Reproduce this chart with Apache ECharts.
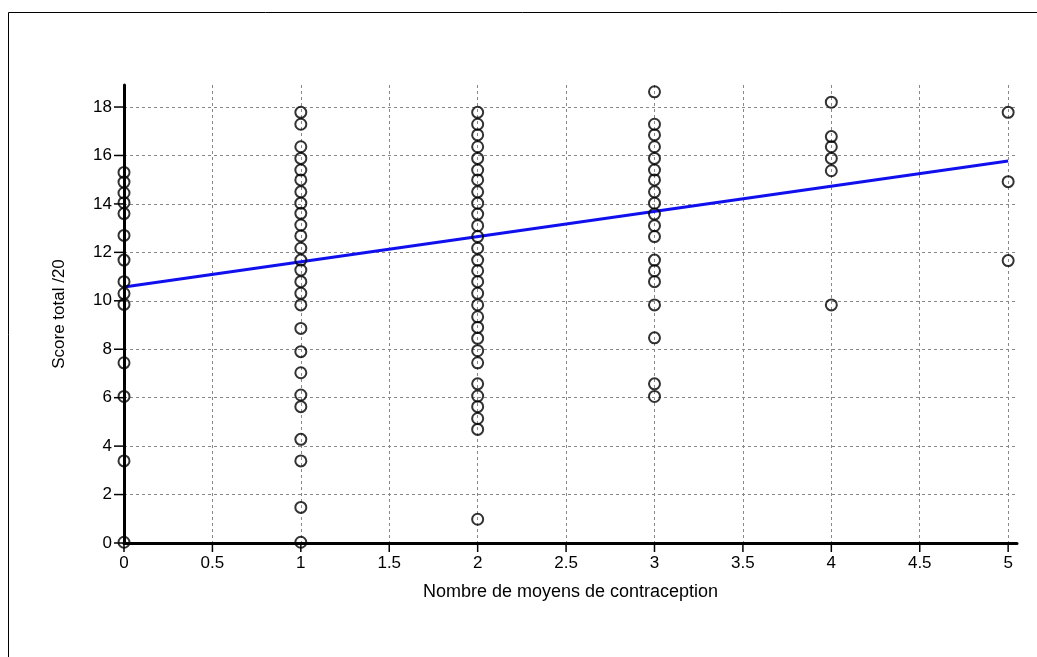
<!DOCTYPE html>
<html>
<head>
<meta charset="utf-8">
<script src="https://cdn.jsdelivr.net/npm/echarts@6/dist/echarts.min.js"></script>
<style>html,body{margin:0;padding:0;background:#fff}#c{width:1037px;height:657px}</style>
</head>
<body>
<div id="c"></div>
<script>
// Scores (y) for each number of contraception methods (x)
const scoresAt0 = [15.3, 14.9, 14.45, 14.05, 13.6, 12.7, 11.68, 10.79, 10.3, 9.85, 7.44, 6.05, 3.39, 0.03];
const scoresAt1 = [17.78, 17.29, 16.36, 15.88, 15.40, 14.99, 14.50, 14.03, 13.61, 13.13, 12.68, 12.17, 11.68, 11.27, 10.79, 10.31, 9.83, 8.86, 7.90, 7.03, 6.11, 5.63, 4.28, 3.39, 1.47, 0.03];
const scoresAt2 = [17.78, 17.29, 16.85, 16.36, 15.88, 15.40, 14.99, 14.50, 14.03, 13.58, 13.10, 12.65, 12.17, 11.68, 11.24, 10.79, 10.31, 9.83, 9.34, 8.90, 8.45, 7.94, 7.44, 6.57, 6.07, 5.63, 5.14, 4.69, 0.98];
const scoresAt3 = [18.63, 17.29, 16.85, 16.36, 15.88, 15.40, 14.99, 14.50, 14.03, 13.58, 13.10, 12.65, 11.68, 11.24, 10.79, 9.83, 8.47, 6.57, 6.05];
const scoresAt4 = [18.20, 16.78, 16.36, 15.88, 15.37, 9.83];
const scoresAt5 = [17.78, 14.92, 11.66];
const methodCounts = [0, 1, 2, 3, 4, 5];
const fitX = [0, 5];
const fitY = [10.57, 15.77];
const xTicks = [0, 0.5, 1, 1.5, 2, 2.5, 3, 3.5, 4, 4.5, 5];
const yTicks = [0, 2, 4, 6, 8, 10, 12, 14, 16, 18];
const xTitle = 'Nombre de moyens de contraception';
const yTitle = 'Score total /20';

const groups = [scoresAt0, scoresAt1, scoresAt2, scoresAt3, scoresAt4, scoresAt5];
const scatterData = [];
groups.forEach((g, i) => g.forEach(v => scatterData.push([methodCounts[i], v])));

const FONT = 'Liberation Sans, Arial, sans-serif';
const X_MAX = 5.05, Y_MAX = 18.91;
const chart = echarts.init(document.getElementById('c'), null, {renderer: 'canvas'});
const gridLine = {show: true, lineStyle: {color: '#888', width: 1, type: [3, 3]}};
// helper axes that only draw the dashed grid at the tick values
const gridAxis = (min, max, ticks) => ({
  type: 'value', min: min, max: max,
  axisLine: {show: false},
  axisTick: {show: false, customValues: ticks},
  axisLabel: {show: false, customValues: ticks},
  splitLine: gridLine
});
chart.setOption({
  animation: false,
  backgroundColor: '#fff',
  grid: {left: 124, right: 20, top: 85, bottom: 114, containLabel: false},
  xAxis: [{
    type: 'value', min: 0, max: X_MAX, interval: 0.5,
    name: xTitle, nameLocation: 'middle', nameGap: 40,
    nameTextStyle: {color: '#000', fontSize: 18, fontFamily: FONT},
    axisLine: {show: true, onZero: false, lineStyle: {color: '#000', width: 3}},
    axisTick: {show: false},
    axisLabel: {customValues: xTicks, margin: 12, color: '#000', fontSize: 17, fontFamily: FONT,
      formatter: v => String(v)},
    splitLine: {show: false},
    z: 5
  }, Object.assign(gridAxis(0, X_MAX, xTicks), {position: 'top'})],
  yAxis: [{
    type: 'value', min: 0, max: Y_MAX, interval: 2,
    name: yTitle, nameLocation: 'middle', nameGap: 56,
    nameTextStyle: {color: '#000', fontSize: 17, fontFamily: FONT},
    axisLine: {show: true, onZero: false, lineStyle: {color: '#000', width: 3}},
    axisTick: {show: false},
    axisLabel: {customValues: yTicks, margin: 12, color: '#000', fontSize: 17, fontFamily: FONT,
      formatter: v => String(v)},
    splitLine: {show: false},
    z: 5
  }, Object.assign(gridAxis(0, Y_MAX, yTicks), {position: 'right'})],
  series: [
    {
      // x-axis tick marks at the tick values
      type: 'custom', clip: false, silent: true, z: 6,
      data: xTicks.map(v => [v, 0]),
      renderItem: (params, api) => {
        const p = api.coord([api.value(0), api.value(1)]);
        return {type: 'line', shape: {x1: p[0], y1: p[1], x2: p[0], y2: p[1] + 9},
          style: {stroke: '#000', lineWidth: 1.5}};
      }
    },
    {
      // y-axis tick marks at the tick values
      type: 'custom', clip: false, silent: true, z: 6,
      data: yTicks.map(v => [0, v]),
      renderItem: (params, api) => {
        const p = api.coord([api.value(0), api.value(1)]);
        return {type: 'line', shape: {x1: p[0] - 10, y1: p[1], x2: p[0], y2: p[1]},
          style: {stroke: '#000', lineWidth: 1.5}};
      }
    },
    {
      type: 'line', data: fitX.map((x, i) => [x, fitY[i]]),
      symbol: 'none', z: 3,
      lineStyle: {color: '#1010ee', width: 3}
    },
    {
      type: 'scatter', data: scatterData, symbol: 'circle', symbolSize: 11, clip: false, z: 4,
      itemStyle: {color: 'rgba(0,0,0,0)', borderColor: '#000', borderWidth: 2}
    }
  ],
  graphic: [
    {type: 'line', shape: {x1: 8.5, y1: 12.5, x2: 1037, y2: 12.5}, style: {stroke: '#000', lineWidth: 1}, silent: true},
    {type: 'line', shape: {x1: 8.5, y1: 12.5, x2: 8.5, y2: 657}, style: {stroke: '#000', lineWidth: 1}, silent: true}
  ]
});
</script>
</body>
</html>
